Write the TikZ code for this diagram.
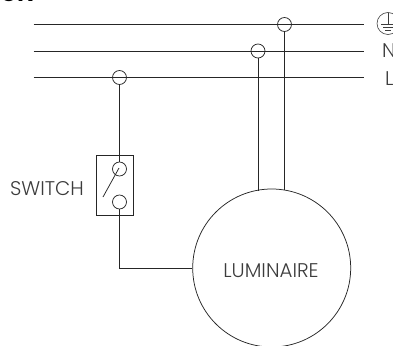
\documentclass[tikz,border=0pt]{standalone}
\usepackage{fontspec}
\setmainfont{Poppins Light}
\newfontfamily\topfont{Poppins}
\usepackage{tikz}
\definecolor{textgray}{RGB}{60,60,60}
\tikzset{
	wire/.style={line width=0.75pt,black!85},
	junction node/.style={circle,draw,line width=0.75pt,black!85,fill=none,minimum size=14pt,inner sep=0pt},
	label node/.style={font=\fontsize{19.8}{22}\selectfont,text=textgray,inner sep=0pt,anchor=base}
}
\begin{document}
\begin{tikzpicture}[x=1pt,y=-1pt]
	\useasboundingbox (0,0) rectangle (393,345);
	\clip (0,0) rectangle (393,345);

	% supply lines
	\coordinate (EL) at (33.5,24.5);
	\coordinate (ER) at (364,24.5);
	\coordinate (NL) at (33.5,51);
	\coordinate (NR) at (364,51);
	\coordinate (LL) at (33.5,77.5);
	\coordinate (LR) at (364,77.5);

	\node[junction node] (JE) at (284.5,24.5) {};
	\node[junction node] (JN) at (258,51) {};
	\node[junction node] (JL) at (119.5,77.5) {};

	\draw[wire] (EL) -- (ER);
	\draw[wire] (NL) -- (NR);
	\draw[wire] (LL) -- (LR);

	% switch
	\node[draw,line width=0.75pt,black!85,minimum width=36.5pt,minimum height=59.5pt,inner sep=0pt] (SW) at (114.75,185.25) {};
	\node[junction node] (S1) at (119.5,169) {};
	\node[junction node] (S2) at (119.5,202) {};
	\coordinate (B1) at (119,168);
	\coordinate (B2) at (103,197);
	\draw[wire] (B1) -- (B2);

	% luminaire
	\node[circle,draw,line width=0.75pt,black!85,minimum size=158pt,inner sep=0pt] (LUM) at (271.7,268) {};
	\coordinate (C) at (119.5,268);
	\coordinate (LN) at (258,190.5);
	\coordinate (LE) at (284.5,190);

	\draw[wire] (JL) -- (S1);
	\draw[wire] (S2) -- (C) -- (LUM.west);
	\draw[wire] (JN) -- (LN);
	\draw[wire] (JE) -- (LE);

	% earth symbol
	\node[circle,draw,line width=0.6pt,textgray,minimum size=22pt,inner sep=0pt] (EA) at (388,23.5) {};
	\coordinate (E1) at (388,13);
	\coordinate (E2) at (388,24);
	\draw[line width=0.6pt,textgray] (E1) -- (E2) (381,24) -- (395,24) (383,27) -- (393,27) (385,30) -- (391,30);

	% texts
	\node[label node] (TSW) at (47,195) {SWITCH};
	\node[label node] (TLU) at (271,277) {LUMINAIRE};
	\node[label node,anchor=base west] (TN) at (382,57.5) {N};
	\node[label node,anchor=base west] (TL) at (385,85) {L};
	\node[label node,anchor=base west,text=black,font=\fontsize{22}{24}\topfont\bfseries] (TOP) at (0,2) {ON};
\end{tikzpicture}
\end{document}
